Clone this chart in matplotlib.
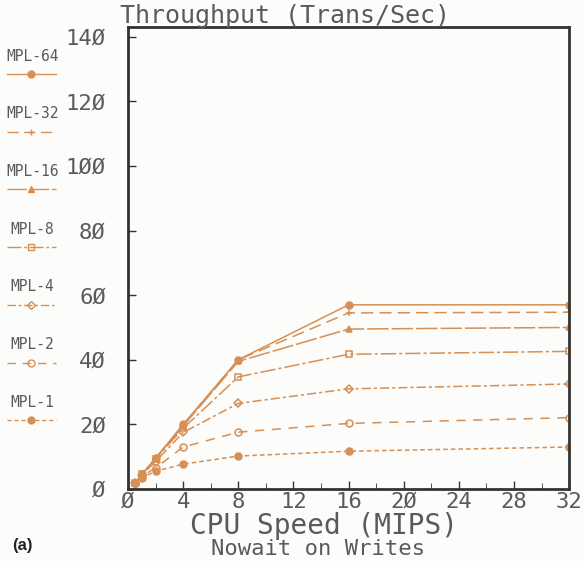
import matplotlib.pyplot as plt
from matplotlib.ticker import FuncFormatter

# CPU speed (MIPS) and throughput per multiprogramming level
mips = [0.5, 1, 2, 4, 8, 16, 32]
mpl64 = [1.8, 4.5, 9.5, 20.0, 40.0, 57.0, 57.0]
mpl32 = [1.8, 4.5, 9.5, 19.8, 40.0, 54.5, 54.7]
mpl16 = [1.8, 4.5, 9.5, 19.5, 39.5, 49.5, 50.0]
mpl8 = [1.8, 4.5, 9.3, 18.8, 34.7, 41.7, 42.6]
mpl4 = [1.8, 4.3, 8.5, 17.5, 26.5, 31.0, 32.5]
mpl2 = [1.8, 4.0, 6.5, 13.0, 17.6, 20.3, 22.1]
mpl1 = [1.8, 3.5, 5.5, 7.7, 10.2, 11.7, 13.0]

labels = ['MPL-64', 'MPL-32', 'MPL-16', 'MPL-8', 'MPL-4', 'MPL-2', 'MPL-1']
series = [mpl64, mpl32, mpl16, mpl8, mpl4, mpl2, mpl1]

color = '#d68f55'
text_color = '#5a5a5a'
styles = [
    ('-', 'o', color),
    ((0, (8, 4)), '+', color),
    ((0, (14, 2)), '^', color),
    ((0, (10, 2, 2, 2)), 's', 'none'),
    ((0, (6, 2, 2, 2)), 'D', 'none'),
    ((0, (6, 5)), 'o', 'none'),
    ((0, (3, 2)), 'o', color),
]

fig = plt.figure(figsize=(5.83, 5.61), dpi=100, facecolor='#fcfcfa')
ax = fig.add_axes([0.2196, 0.1283, 0.7565, 0.8237])
ax.set_facecolor('#fcfcfa')

for vals, (ls, mk, fc) in zip(series, styles):
    ax.plot(mips, vals, color=color, linestyle=ls, linewidth=1.1,
            marker=mk, markersize=5 if mk != 'D' else 4,
            markerfacecolor=fc, markeredgecolor=color, markeredgewidth=1.1)

ax.set_xlim(0, 32)
ax.set_ylim(0, 143)
ax.set_xticks(range(0, 33, 4))
ax.set_xticks(range(0, 33, 2), minor=True)
ax.set_yticks(range(0, 141, 20))

slash = FuncFormatter(lambda v, p: str(int(v)).replace('0', 'Ø'))
ax.xaxis.set_major_formatter(slash)
ax.yaxis.set_major_formatter(slash)

ax.tick_params(axis='both', direction='in', colors='#333333', labelcolor=text_color,
               labelsize=16, width=1, length=6)
ax.tick_params(axis='x', which='minor', direction='in', length=4, color='#333333')
ax.tick_params(axis='x', pad=2)
ax.tick_params(axis='y', pad=16)
for lab in ax.get_xticklabels() + ax.get_yticklabels():
    lab.set_family('DejaVu Sans Mono')
for sp in ax.spines.values():
    sp.set_linewidth(2)
    sp.set_color('#333333')

fig.text(0.205, 1 - 23 / 561, 'Throughput (Trans/Sec)', family='DejaVu Sans Mono',
         fontsize=18, color=text_color, va='baseline')
fig.text(0.555, 0.062, 'CPU Speed (MIPS)', family='DejaVu Sans Mono',
         fontsize=20, color=text_color, ha='center', va='center')
fig.text(0.545, 0.022, 'Nowait on Writes', family='DejaVu Sans Mono',
         fontsize=16, color=text_color, ha='center', va='center')
fig.text(0.02, 0.028, '(a)', family='Liberation Sans', fontsize=12,
         fontweight='bold', color='#222222', ha='left', va='center')

# hand-drawn style legend down the left edge
lax = fig.add_axes([0.0, 0.0, 0.12, 1.0])
lax.set_xlim(0, 1)
lax.set_ylim(0, 561)
lax.axis('off')
for i, (lab, (ls, mk, fc)) in enumerate(zip(labels, styles)):
    y_text = 561 - (56 + i * 57.7)
    y_line = 561 - (74 + i * 57.7)
    lax.text(0.46, y_text, lab, family='DejaVu Sans Mono', fontsize=10.5,
             color=text_color, ha='center', va='center')
    lax.plot([0.1, 0.45, 0.8], [y_line] * 3, color=color, linestyle=ls, linewidth=1.0,
             marker=mk, markevery=[1], markersize=5 if mk != 'D' else 4,
             markerfacecolor=fc, markeredgecolor=color, markeredgewidth=1.0)

plt.savefig('out.png', dpi=100, facecolor=fig.get_facecolor())
